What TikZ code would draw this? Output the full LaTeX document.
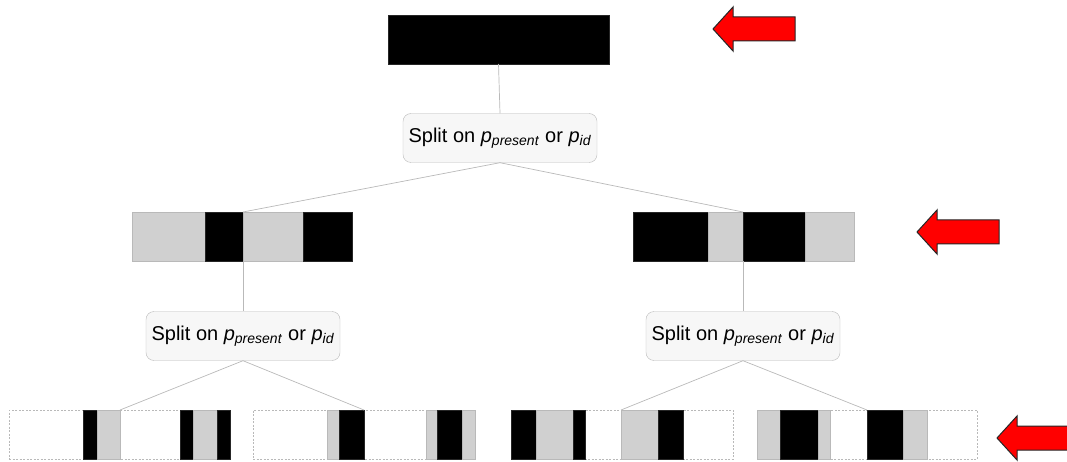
\documentclass[tikz,border=0pt]{standalone}
\usepackage{fontspec}
\setmainfont{Liberation Sans}
\begin{document}
\definecolor{segGray}{RGB}{208,208,208}
\definecolor{arrowRed}{RGB}{255,0,0}
\newcommand\splittext{Split on \textit{p}\textsubscript{\textit{present}} or \textit{p}\textsubscript{\textit{id}}}
\begin{tikzpicture}[x=1pt,y=-1pt,
  seg/.style={anchor=north west, inner sep=0pt, outer sep=0pt, minimum height=49pt},
  blk/.style={seg, fill=black, draw=black!85, line width=0.4pt},
  gry/.style={seg, fill=segGray, draw=gray!55, line width=0.4pt},
  frame/.style={seg, draw=gray!55, dash pattern=on 2pt off 1.5pt, line width=0.6pt},
  split/.style={draw=gray!55, fill=gray!6, rounded corners=8pt, minimum width=194pt,
    minimum height=49pt, inner sep=0pt, font=\fontsize{20}{24}\selectfont},
  link/.style={draw=gray!55, line width=0.7pt},
  redarrow/.style={fill=arrowRed, draw=black!85, line width=1pt, line join=miter},
]
\useasboundingbox (0,0) rectangle (1067,462);

% pointer arrow, tip at the given point
\newcommand\pointer[2]{%
  \draw[redarrow] (#1,#2) -- ++(20,-22) -- ++(0,10) -- ++(62,0) -- ++(0,24)
    -- ++(-62,0) -- ++(0,10) -- cycle;}

% root sequence
\node[blk, minimum width=221pt] (top) at (388,15) {};

% first split
\node[split] (s1) at (500,138) {\splittext};

% middle left sequence
\node[gry, minimum width=73pt] (ml1) at (132,212) {};
\node[blk, minimum width=38pt] (ml2) at (205,212) {};
\node[gry, minimum width=60pt] (ml3) at (243,212) {};
\node[blk, minimum width=49pt] (ml4) at (303,212) {};

% middle right sequence
\node[blk, minimum width=75pt] (mr1) at (633,212) {};
\node[gry, minimum width=35pt] (mr2) at (708,212) {};
\node[blk, minimum width=62pt] (mr3) at (743,212) {};
\node[gry, minimum width=49pt] (mr4) at (805,212) {};

% second-level splits
\node[split] (s2) at (243,336) {\splittext};
\node[split] (s3) at (743,336) {\splittext};

% leaf sequences (dashed frames with fragments)
\node[frame, minimum width=221pt] (f1) at (9,410) {};
\node[blk, minimum width=14pt] (a1) at (83,410) {};
\node[gry, minimum width=23pt] (a2) at (97,410) {};
\node[blk, minimum width=13pt] (a3) at (180,410) {};
\node[gry, minimum width=24pt] (a4) at (193,410) {};
\node[blk, minimum width=13pt] (a5) at (217,410) {};

\node[frame, minimum width=222pt] (f2) at (253,410) {};
\node[gry, minimum width=12pt] (b1) at (327,410) {};
\node[blk, minimum width=25pt] (b2) at (339,410) {};
\node[gry, minimum width=11pt] (b3) at (426,410) {};
\node[blk, minimum width=25pt] (b4) at (437,410) {};
\node[gry, minimum width=13pt] (b5) at (462,410) {};

\node[frame, minimum width=222pt] (f3) at (511,410) {};
\node[blk, minimum width=25pt] (c1) at (511,410) {};
\node[gry, minimum width=37pt] (c2) at (536,410) {};
\node[blk, minimum width=12pt] (c3) at (573,410) {};
\node[gry, minimum width=37pt] (c4) at (621,410) {};
\node[blk, minimum width=25pt] (c5) at (658,410) {};

\node[frame, minimum width=220pt] (f4) at (757,410) {};
\node[gry, minimum width=23pt] (d1) at (757,410) {};
\node[blk, minimum width=38pt] (d2) at (780,410) {};
\node[gry, minimum width=12pt] (d3) at (818,410) {};
\node[blk, minimum width=36pt] (d4) at (867,410) {};
\node[gry, minimum width=24pt] (d5) at (903,410) {};

% connectors
\draw[link] (top.south) -- (s1.north);
\draw[link] (s1.south) -- (ml3.north west);
\draw[link] (s1.south) -- (mr3.north west);
\draw[link] (ml3.south west) -- (s2.north);
\draw[link] (mr3.south west) -- (s3.north);
\draw[link] (s2.south) -- (a2.north east);
\draw[link] (s2.south) -- (b2.north east);
\draw[link] (s3.south) -- (c4.north west);
\draw[link] (s3.south) -- (d4.north west);

% level pointers
\pointer{713}{29}
\pointer{917}{232}
\pointer{997}{438}
\end{tikzpicture}
\end{document}
